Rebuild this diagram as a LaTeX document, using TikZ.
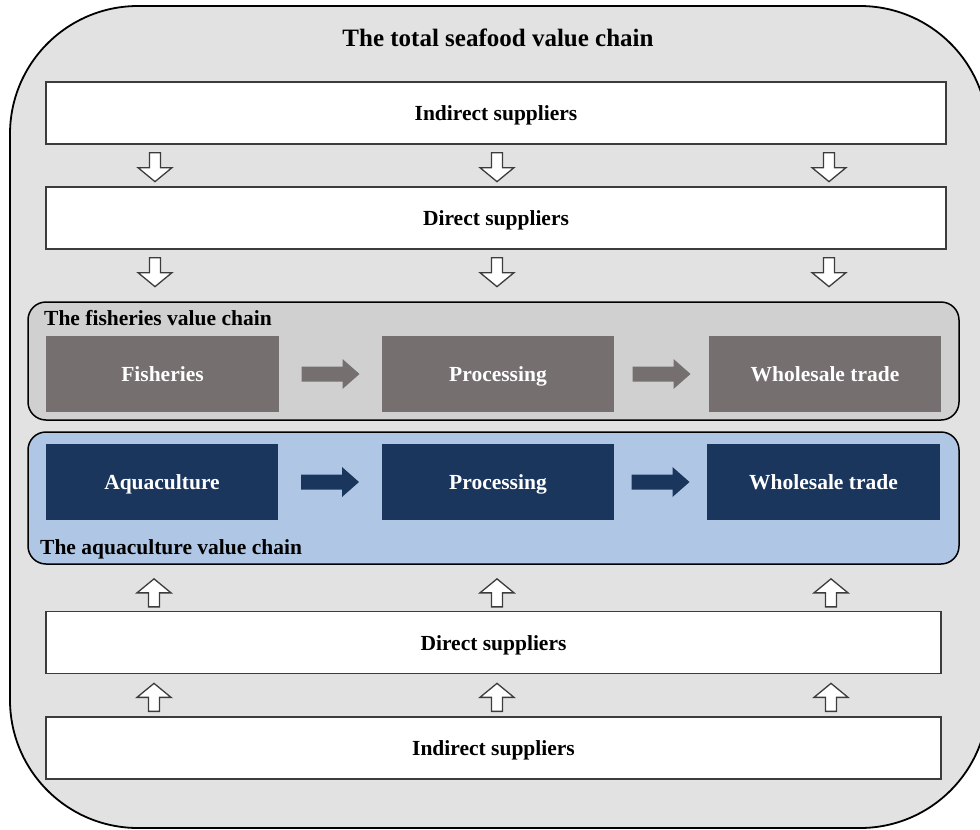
\documentclass[tikz,border=0pt]{standalone}
\usepackage{fontspec}
\setmainfont{Liberation Serif}
\usetikzlibrary{calc}
\definecolor{outerfill}{RGB}{226,226,226}
\definecolor{fishfill}{RGB}{208,208,208}
\definecolor{fishbox}{RGB}{117,111,111}
\definecolor{aquafill}{RGB}{175,199,229}
\definecolor{aquabox}{RGB}{27,54,93}
\definecolor{edge}{RGB}{60,60,60}
\newcommand{\labelfont}{\fontsize{21.5}{24}\selectfont\bfseries}
\newcommand{\arrowdown}[1]{\draw[hollowarrow] #1 ++(-5.5,0)--++(11,0)--++(0,15)--++(11.5,0)--++(-17,14)--++(-17,-14)--++(11.5,0)--cycle;}
\newcommand{\arrowup}[1]{\draw[hollowarrow] #1 --++(17,14)--++(-11.5,0)--++(0,14)--++(-11,0)--++(0,-14)--++(-11.5,0)--cycle;}
\newcommand{\arrowright}[3]{\fill[#3] ($(#1.east)!0.5!(#2.west)+(-29,-7.5)$)--++(41,0)--++(0,-7.5)--++(17,15)--++(-17,15)--++(0,-7.5)--++(-41,0)--cycle;}
\tikzset{
  supbox/.style={draw=edge,line width=1.3pt,fill=white,font=\labelfont,minimum height=62pt,inner sep=0pt,text height=17pt,text depth=2pt},
  stagebox/.style={font=\labelfont,text=white,minimum width=232pt,minimum height=76pt,inner sep=0pt,text height=17pt,text depth=2pt},
  chainbox/.style={draw=black,line width=1.5pt,rounded corners=18pt,inner sep=0pt,minimum width=931pt},
  chainlabel/.style={font=\labelfont,anchor=west,inner sep=0pt,text height=17pt,text depth=2pt},
  hollowarrow/.style={draw=edge,line width=1.3pt,fill=white,line join=miter}
}

\begin{document}
\begin{tikzpicture}[x=1pt,y=-1pt]
\useasboundingbox (0,0) rectangle (980,830);
\draw[line width=1.8pt,fill=outerfill,rounded corners=128pt] (10,6) rectangle (988,828);
\node[font=\fontsize{25}{28}\selectfont\bfseries,text height=19pt,text depth=3pt] (title) at (498,38) {The total seafood value chain};

% suppliers on top
\node[supbox,minimum width=900pt] (indtop) at (496,113) {Indirect suppliers};
\node[supbox,minimum width=900pt] (dirtop) at (496,218) {Direct suppliers};
\foreach \dx in {-341,1,333}{
  \arrowdown{($(indtop.south)+(\dx,8)$)}
  \arrowdown{($(dirtop.south)+(\dx,8)$)}
}

% fisheries
\node[chainbox,fill=fishfill,minimum height=118pt] (fishchain) at (493.5,361) {};
\node[chainlabel] (fishlabel) at (44,318) {The fisheries value chain};
\node[stagebox,fill=fishbox,minimum width=233pt] (fish) at (162.5,374) {Fisheries};
\node[stagebox,fill=fishbox] (fishproc) at (498,374) {Processing};
\node[stagebox,fill=fishbox] (fishtrade) at (825,374) {Wholesale trade};
\arrowright{fish}{fishproc}{fishbox}
\arrowright{fishproc}{fishtrade}{fishbox}

% aquaculture
\node[chainbox,fill=aquafill,minimum height=132pt] (aquachain) at (493.5,498) {};
\node[chainlabel] (aqualabel) at (40,547) {The aquaculture value chain};
\node[stagebox,fill=aquabox] (aqua) at (162,482) {Aquaculture};
\node[stagebox,fill=aquabox] (aquaproc) at (498,482) {Processing};
\node[stagebox,fill=aquabox,minimum width=233pt] (aquatrade) at (823.5,482) {Wholesale trade};
\arrowright{aqua}{aquaproc}{aquabox}
\arrowright{aquaproc}{aquatrade}{aquabox}

% suppliers below
\node[supbox,minimum width=895pt] (dirbot) at (493.5,642.5) {Direct suppliers};
\node[supbox,minimum width=895pt] (indbot) at (493.5,748) {Indirect suppliers};
\foreach \dx in {-339.5,3.5,337.5}{
  \arrowup{($(dirbot.north)+(\dx,-32)$)}
  \arrowup{($(indbot.north)+(\dx,-33)$)}
}
\end{tikzpicture}
\end{document}
